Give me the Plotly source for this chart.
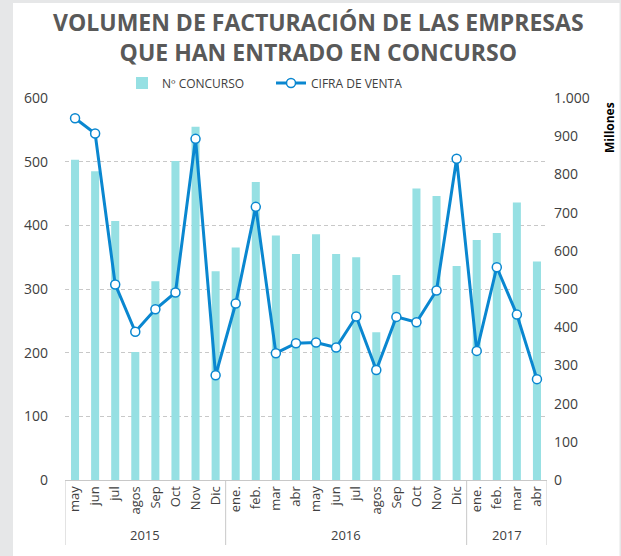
import plotly.graph_objects as go

years = ["2015"] * 8 + ["2016"] * 12 + ["2017"] * 4
months = ["may", "jun", "jul", "agos", "Sep", "Oct", "Nov", "Dic",
          "ene.", "feb.", "mar", "abr", "may", "jun", "jul", "agos", "Sep", "Oct", "Nov", "Dic",
          "ene.", "feb.", "mar", "abr"]
concursos = [503, 485, 407, 201, 312, 501, 555, 328,
             365, 468, 384, 355, 386, 355, 350, 232, 322, 458, 446, 336,
             377, 388, 436, 343]
cifra_venta = [947, 907, 512, 388, 447, 491, 893, 274,
               462, 715, 332, 358, 360, 347, 428, 288, 427, 413, 496, 841,
               338, 557, 433, 264]

FONT = "Open Sans"
TXT = "#404040"
W, H = 621, 556
L, R, T, B = 65, 74, 98, 76
PW, PH = W - L - R, H - T - B

def px_x(x):
    return (x - L) / PW

def px_y(y):
    return (H - B - y) / PH

cats = [f"{m} {y}" for m, y in zip(months, years)]

fig = go.Figure()
fig.add_trace(go.Bar(
    x=cats, y=concursos, name="Nº CONCURSO",
    marker=dict(color="#96E0E3", line=dict(width=0)),
    yaxis="y",
))
fig.add_trace(go.Scatter(
    x=cats, y=cifra_venta, name="CIFRA DE VENTA",
    mode="lines+markers",
    line=dict(color="#0A87D0", width=3),
    marker=dict(size=9, color="white", line=dict(color="#0A87D0", width=1.5)),
    yaxis="y2",
))

# year group labels and dividers
annotations = []
shapes = []
groups = []
for i, y in enumerate(years):
    if not groups or groups[-1][0] != y:
        groups.append([y, i, i])
    else:
        groups[-1][2] = i
for y, a, b in groups:
    annotations.append(dict(text=y, xref="x", yref="paper", x=(a + b) / 2, y=px_y(535),
                            xanchor="center", yanchor="middle", showarrow=False,
                            font=dict(size=13, color=TXT, family=FONT)))
edges = [groups[0][1] - 0.5] + [b + 0.5 for _, _, b in groups]
for e in edges:
    shapes.append(dict(type="line", xref="x", yref="paper", x0=e, x1=e, y0=px_y(480), y1=px_y(545),
                       line=dict(color="#C8C8C8", width=1)))

annotations += [
    dict(text="<b>VOLUMEN DE FACTURACIÓN DE LAS EMPRESAS<br>QUE HAN ENTRADO EN CONCURSO</b>",
         xref="paper", yref="paper",
         x=px_x(318), y=px_y(37), xanchor="center", yanchor="middle", showarrow=False,
         font=dict(size=23, color="#595959", family=FONT)),
    dict(text="<b>Millones</b>", xref="paper", yref="paper",
         x=px_x(609), y=px_y(128), xanchor="center", yanchor="middle", showarrow=False,
         textangle=-90, font=dict(size=12, color="black", family=FONT)),
]

shapes += [
    dict(type="rect", xref="paper", yref="paper", x0=px_x(0), x1=px_x(13), y0=px_y(H), y1=px_y(0),
         fillcolor="#E6E7E8", line=dict(width=0), layer="below"),
    dict(type="rect", xref="paper", yref="paper", x0=px_x(0), x1=px_x(W), y0=px_y(3), y1=px_y(0),
         fillcolor="#E6E7E8", line=dict(width=0), layer="below"),
    dict(type="rect", xref="paper", yref="paper", x0=px_x(619.5), x1=px_x(W), y0=px_y(H), y1=px_y(0),
         fillcolor="#E6E7E8", line=dict(width=0), layer="below"),
]

fig.update_layout(
    width=W, height=H,
    margin=dict(l=L, r=R, t=T, b=B, autoexpand=False),
    paper_bgcolor="white", plot_bgcolor="white",
    font=dict(family=FONT, color=TXT, size=13),
    bargap=0.6,
    showlegend=True,
    legend=dict(orientation="h", x=px_x(122), xanchor="left", y=px_y(83), yanchor="middle",
                font=dict(size=12, color=TXT), itemwidth=30, entrywidth=104,
                traceorder="normal"),
    xaxis=dict(
        type="category", range=[-0.5, len(cats) - 0.5],
        tickmode="array", tickvals=cats, ticktext=months,
        showline=True, linecolor="#C8C8C8", linewidth=1,
        tickangle=-90, tickfont=dict(size=13, color=TXT),
        ticks="", showgrid=False,
    ),
    yaxis=dict(
        range=[0, 600], dtick=100, showgrid=True, gridcolor="#C8C8C8", griddash="4px,3px",
        gridwidth=1, zeroline=False, showline=False,
        tickfont=dict(size=14, color=TXT), ticklabelstandoff=16,
    ),
    yaxis2=dict(
        range=[0, 1000], dtick=100, overlaying="y", side="right", showgrid=False,
        zeroline=False, showline=False, tickformat=",d",
        tickfont=dict(size=14, color=TXT), ticklabelstandoff=6,
    ),
    separators=",.",
    annotations=annotations,
    shapes=shapes,
)

fig.write_html("out.html", config={"displayModeBar": False},
               post_script="document.body.style.margin='0';document.body.style.overflow='hidden';")
